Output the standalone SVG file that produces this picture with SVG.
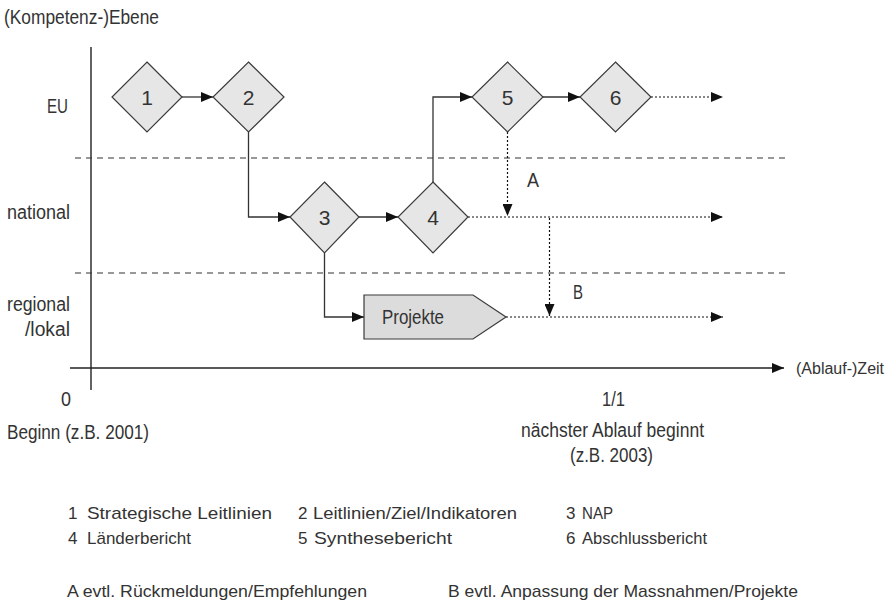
<svg xmlns="http://www.w3.org/2000/svg" width="896" height="604" viewBox="0 0 896 604">
<style>
text{font-family:"Liberation Sans",Arial,sans-serif;fill:#333;font-size:20px;}
.leg{font-size:17px;}
.zeit{font-size:16px;}
.dia{fill:#e6e6e6;stroke:#3a3a3a;stroke-width:1.2;}
.num{text-anchor:middle;font-size:21px;}
.sol{fill:none;stroke:#333;stroke-width:1.3;}
.dot{fill:none;stroke:#111;stroke-width:1.2;stroke-dasharray:2,2;}
.sep{fill:none;stroke:#333;stroke-width:1.2;stroke-dasharray:6,5;}
.axis{fill:none;stroke:#222;stroke-width:1.4;}
</style>
<defs>
<marker id="ah" viewBox="0 0 12 10" refX="12" refY="5" markerWidth="12" markerHeight="10" markerUnits="userSpaceOnUse" orient="auto">
<path d="M0,0 L12,5 L0,10 Z" fill="#111"/>
</marker>
</defs>

<!-- axes and separators -->
<g id="axes">
<line class="axis" x1="91" y1="47" x2="91" y2="390"/>
<line class="axis" x1="70" y1="368" x2="784" y2="368" marker-end="url(#ah)"/>
<line class="sep" x1="75" y1="158" x2="790" y2="158"/>
<line class="sep" x1="75" y1="273" x2="790" y2="273"/>
</g>

<!-- labels -->
<g id="labels">
<text x="4" y="24" textLength="155" lengthAdjust="spacingAndGlyphs">(Kompetenz-)Ebene</text>
<text x="47" y="113" textLength="21" lengthAdjust="spacingAndGlyphs">EU</text>
<text x="7" y="219" textLength="63" lengthAdjust="spacingAndGlyphs">national</text>
<text x="7" y="311" textLength="63" lengthAdjust="spacingAndGlyphs">regional</text>
<text x="25" y="336" textLength="45" lengthAdjust="spacingAndGlyphs">/lokal</text>
<text class="zeit" x="796" y="374">(Ablauf-)Zeit</text>
<text x="61" y="406" textLength="10" lengthAdjust="spacingAndGlyphs">0</text>
<text x="602" y="406" textLength="23" lengthAdjust="spacingAndGlyphs">1/1</text>
<text x="7" y="439" textLength="142" lengthAdjust="spacingAndGlyphs">Beginn (z.B. 2001)</text>
<text x="521" y="437" textLength="183" lengthAdjust="spacingAndGlyphs">nächster Ablauf beginnt</text>
<text x="570" y="462" textLength="83" lengthAdjust="spacingAndGlyphs">(z.B. 2003)</text>
<text x="527" y="187" textLength="12" lengthAdjust="spacingAndGlyphs">A</text>
<text x="573" y="299" textLength="10" lengthAdjust="spacingAndGlyphs">B</text>
</g>

<!-- connectors -->
<g id="connectors">
<path class="sol" d="M182,97 H213" marker-end="url(#ah)"/>
<path class="sol" d="M248.5,132 V217 H290" marker-end="url(#ah)"/>
<path class="sol" d="M359,217 H398" marker-end="url(#ah)"/>
<path class="sol" d="M433,182 V97 H472" marker-end="url(#ah)"/>
<path class="sol" d="M543,97 H580" marker-end="url(#ah)"/>
<path class="sol" d="M324.5,253 V317 H364" marker-end="url(#ah)"/>
<path class="dot" d="M651,97 H723" marker-end="url(#ah)"/>
<path class="dot" d="M468,217 H723" marker-end="url(#ah)"/>
<path class="dot" d="M506,317 H723" marker-end="url(#ah)"/>
<path class="dot" d="M507.5,132 V216" marker-end="url(#ah)"/>
<path class="dot" d="M549.5,218 V316" marker-end="url(#ah)"/>
</g>

<!-- nodes -->
<g id="n1"><path class="dia" d="M147,62 L182,97 L147,132 L112,97 Z"/><text class="num" x="147" y="105">1</text></g>
<g id="n2"><path class="dia" d="M248.5,62 L284,97 L248.5,132 L213,97 Z"/><text class="num" x="248.5" y="105">2</text></g>
<g id="n3"><path class="dia" d="M324.5,182 L359,217 L324.5,253 L290,217 Z"/><text class="num" x="324.5" y="225">3</text></g>
<g id="n4"><path class="dia" d="M433,182 L468,217 L433,253 L398,217 Z"/><text class="num" x="433" y="225">4</text></g>
<g id="n5"><path class="dia" d="M507.5,62 L543,97 L507.5,132 L472,97 Z"/><text class="num" x="507.5" y="105">5</text></g>
<g id="n6"><path class="dia" d="M615.5,62 L651,97 L615.5,132 L580,97 Z"/><text class="num" x="615.5" y="105">6</text></g>
<g id="projekte"><path d="M364,295 H473 L506,317 L473,339 H364 Z" fill="#dcdcdc" stroke="#3a3a3a" stroke-width="1.2"/><text x="382" y="324" textLength="62" lengthAdjust="spacingAndGlyphs">Projekte</text></g>

<!-- legend -->
<g id="legend">
<text class="leg" x="68" y="519">1</text>
<text class="leg" x="87" y="519" textLength="185" lengthAdjust="spacingAndGlyphs">Strategische Leitlinien</text>
<text class="leg" x="298" y="519">2</text>
<text class="leg" x="313" y="519" textLength="204" lengthAdjust="spacingAndGlyphs">Leitlinien/Ziel/Indikatoren</text>
<text class="leg" x="566" y="519">3</text>
<text class="leg" x="582" y="519" textLength="31" lengthAdjust="spacingAndGlyphs">NAP</text>
<text class="leg" x="68" y="544">4</text>
<text class="leg" x="87" y="544" textLength="104" lengthAdjust="spacingAndGlyphs">Länderbericht</text>
<text class="leg" x="298" y="544">5</text>
<text class="leg" x="314" y="544" textLength="138" lengthAdjust="spacingAndGlyphs">Synthesebericht</text>
<text class="leg" x="566" y="544">6</text>
<text class="leg" x="582" y="544" textLength="125" lengthAdjust="spacingAndGlyphs">Abschlussbericht</text>
<text class="leg" x="67" y="597" textLength="300" lengthAdjust="spacingAndGlyphs">A evtl. Rückmeldungen/Empfehlungen</text>
<text class="leg" x="448" y="597" textLength="350" lengthAdjust="spacingAndGlyphs">B  evtl. Anpassung der Massnahmen/Projekte</text>
</g>
</svg>
